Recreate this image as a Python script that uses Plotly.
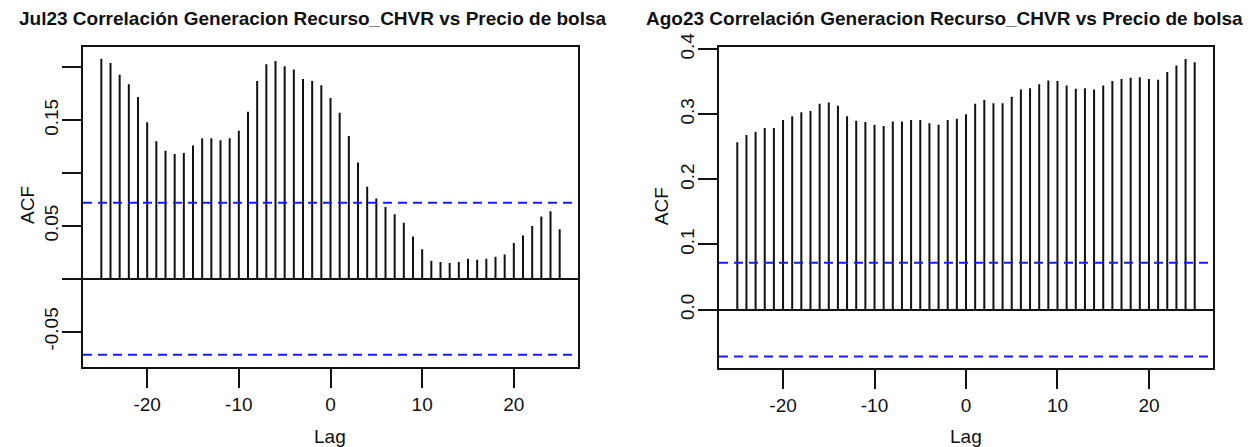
import numpy as np
import plotly.graph_objects as go

# Cross-correlation lags
lags = list(range(-25, 26))

# Jul23: CCF of CHVR generation vs spot price
acf_jul = [0.208, 0.204, 0.193, 0.184, 0.172, 0.148, 0.130, 0.121, 0.118, 0.119,
           0.126, 0.133, 0.133, 0.131, 0.133, 0.140, 0.158, 0.187, 0.203, 0.206,
           0.201, 0.198, 0.189, 0.187, 0.183, 0.171, 0.157, 0.135, 0.110, 0.087,
           0.076, 0.068, 0.061, 0.053, 0.040, 0.028, 0.017, 0.016, 0.015, 0.016,
           0.019, 0.018, 0.019, 0.021, 0.023, 0.034, 0.041, 0.050, 0.059, 0.064,
           0.047]

# Ago23: CCF of CHVR generation vs spot price
acf_ago = [0.257, 0.268, 0.273, 0.279, 0.279, 0.291, 0.297, 0.303, 0.305, 0.316,
           0.318, 0.313, 0.297, 0.290, 0.288, 0.284, 0.282, 0.289, 0.289, 0.291,
           0.291, 0.286, 0.284, 0.291, 0.293, 0.300, 0.316, 0.322, 0.317, 0.317,
           0.327, 0.338, 0.340, 0.346, 0.352, 0.351, 0.344, 0.339, 0.340, 0.338,
           0.344, 0.351, 0.354, 0.356, 0.357, 0.354, 0.353, 0.365, 0.375, 0.385,
           0.380]

# hourly observations in a 31-day month
n_obs = 744
ci = 1.96 / np.sqrt(n_obs)

titles = ["Jul23 Correlación Generacion Recurso_CHVR vs Precio de bolsa",
          "Ago23 Correlación Generacion Recurso_CHVR vs Precio de bolsa"]
x_ticks = [-20, -10, 0, 10, 20]
y_ticks_jul = [-0.05, 0.0, 0.05, 0.10, 0.15, 0.20]
y_text_jul = ["-0.05", "", "0.05", "", "0.15", ""]
y_ticks_ago = [0.0, 0.1, 0.2, 0.3, 0.4]
y_text_ago = ["0.0", "0.1", "0.2", "0.3", "0.4"]

W, H = 1258, 447
FONT = "Liberation Sans, Arial, sans-serif"


def px_x(x):
    return x / W


def px_y(y):
    return 1 - y / H


def r_range(lo, hi):
    span = hi - lo
    return [lo - 0.04 * span, hi + 0.04 * span]


def spikes(x, y):
    xs, ys = [], []
    for a, b in zip(x, y):
        xs += [a, a, None]
        ys += [0, b, None]
    return xs, ys


fig = go.Figure()

panels = [
    dict(vals=acf_jul, xa="x", ya="y", xdom=[83, 578], ydom=[366.7, 47],
         ticks=y_ticks_jul, text=y_text_jul),
    dict(vals=acf_ago, xa="x2", ya="y2", xdom=[719, 1213], ydom=[368.3, 47],
         ticks=y_ticks_ago, text=y_text_ago),
]

layout_axes = {}
for i, p in enumerate(panels):
    xs, ys = spikes(lags, p["vals"])
    fig.add_trace(go.Scatter(x=xs, y=ys, mode="lines", xaxis=p["xa"], yaxis=p["ya"],
                             line=dict(color="#111111", width=2), hoverinfo="skip",
                             showlegend=False))
    for level in (ci, -ci):
        fig.add_shape(type="line", xref=f"{p['xa']} domain", x0=0, x1=1,
                      yref=p["ya"], y0=level, y1=level,
                      line=dict(color="#1a1aff", width=2, dash="9px,6px"))
    yr = r_range(min(-ci, min(p["vals"])), max(ci, max(p["vals"])))
    xr = r_range(min(lags), max(lags))
    suffix = "" if i == 0 else "2"
    common = dict(showgrid=False, showline=True, mirror=True, linecolor="#111111",
                  linewidth=2, ticks="outside", ticklen=19, tickwidth=2,
                  tickcolor="#111111", automargin=False,
                  tickfont=dict(family=FONT, size=19, color="#111111"))
    layout_axes[f"xaxis{suffix}"] = dict(
        domain=[px_x(p["xdom"][0]), px_x(p["xdom"][1])], range=xr,
        tickvals=x_ticks, ticktext=[str(t) for t in x_ticks], zeroline=False,
        anchor=p["ya"], **common)
    layout_axes[f"yaxis{suffix}"] = dict(
        domain=[px_y(p["ydom"][0]), px_y(p["ydom"][1])], range=yr,
        tickvals=p["ticks"], ticktext=p["text"], tickangle=-90,
        ticklabelstandoff=-4,
        zeroline=True, zerolinecolor="#111111", zerolinewidth=2,
        anchor=p["xa"], **common)

annotations = [
    dict(text=titles[0], x=px_x(313), y=px_y(19), font=dict(size=19, weight="bold")),
    dict(text=titles[1], x=px_x(944), y=px_y(19), font=dict(size=19, weight="bold")),
    dict(text="Lag", x=px_x(330), y=px_y(436), font=dict(size=19)),
    dict(text="Lag", x=px_x(966), y=px_y(436), font=dict(size=19)),
    dict(text="ACF", x=px_x(27), y=px_y(205), font=dict(size=19), textangle=-90),
    dict(text="ACF", x=px_x(661.5), y=px_y(206.7), font=dict(size=19), textangle=-90),
]
for a in annotations:
    a.update(xref="paper", yref="paper", xanchor="center", yanchor="middle",
             showarrow=False)
    a["font"].update(family=FONT, color="#111111")

fig.update_layout(width=W, height=H, margin=dict(l=0, r=0, t=0, b=0),
                  paper_bgcolor="white", plot_bgcolor="white",
                  annotations=annotations, **layout_axes)

fig.write_html("out.html")
